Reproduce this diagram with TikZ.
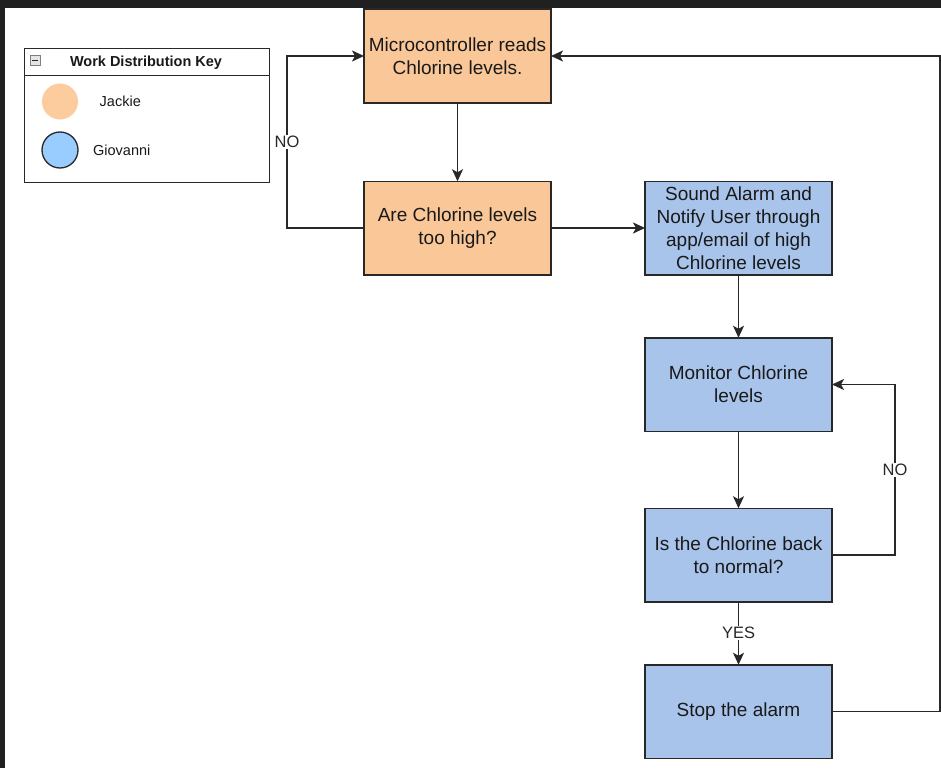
\documentclass[tikz,border=0pt]{standalone}
\usepackage{fontspec}
\setmainfont{Liberation Sans}
\usepackage{tikz}
\usetikzlibrary{arrows.meta,positioning}
\usepackage{xcolor}
\definecolor{jackiefill}{RGB}{250,200,152}
\definecolor{giofill}{RGB}{169,196,235}
\definecolor{jackiedot}{RGB}{252,204,158}
\definecolor{giodot}{RGB}{153,204,255}
\definecolor{linegray}{RGB}{40,40,40}
\definecolor{textdark}{RGB}{25,25,25}
\definecolor{band}{RGB}{32,32,32}

\begin{document}
\begin{tikzpicture}[
    x=1pt, y=1pt,
    node distance=79pt and 94pt,
    box/.style={draw=linegray, line width=1.5pt, minimum height=93.5pt, minimum width=187pt,
                inner sep=0pt, outer sep=0pt, align=center, text=textdark, font=\fontsize{19}{23}\selectfont},
    lbl/.style={fill=white, inner sep=1pt, text=linegray, font=\fontsize{16.5}{18}\selectfont},
    keytext/.style={text=textdark, font=\fontsize{14.5}{16}\selectfont},
    dot/.style={circle, minimum size=36pt, inner sep=0pt},
    arrow/.style={-{Stealth[length=12pt, width=11pt, inset=3pt]}, draw=linegray, line width=1.6pt},
]

% page and screen edges
\useasboundingbox (0,0) rectangle (941,-768);
\fill[white] (0,0) rectangle (941,-768);
\fill[band] (0,0) rectangle (941,-8);
\fill[band] (0,0) rectangle (5,-768);

% Key
\node[draw=linegray, line width=0.9pt, minimum width=245pt, minimum height=134pt] (key) at (146.5,-115) {};
\node[minimum width=245pt, minimum height=28pt, anchor=north, inner sep=0pt, outer sep=0pt] (keyhead) at (key.north) {};
\draw[linegray, line width=0.9pt] (keyhead.south west) -- (keyhead.south east);
\node[font=\bfseries\fontsize{14.5}{16}\selectfont, text=textdark] (keytitle) at (146,-62.5) {Work Distribution Key};
\node[draw=gray, fill=gray!20, line width=0.8pt, minimum size=10pt, inner sep=0pt] (collapse) at (35,-60.5) {};
\draw[linegray, line width=1.1pt] ([xshift=2.5pt]collapse.west) -- ([xshift=-2.5pt]collapse.east);

\node[dot, fill=jackiedot] (jackiedot) at (60,-101.5) {};
\node[keytext, right=18pt of jackiedot] (jackie) {Jackie};
\node[dot, fill=giodot, draw=linegray, line width=1.3pt] (giodot) at (60,-150) {};
\node[keytext, right=11pt of giodot] (giovanni) {Giovanni};

% Jackie
\node[box, fill=jackiefill] (micro) at (457.5,-56) {Microcontroller reads\\Chlorine levels.};
\node[box, fill=jackiefill, below=78.5pt of micro] (toohigh) {Are Chlorine levels\\too high?};

% Giovanni
\node[box, fill=giofill, right=of toohigh] (alarm) {Sound Alarm and\\Notify User through\\app/email of high\\Chlorine levels};
\node[box, fill=giofill, below=63pt of alarm] (monitor) {Monitor Chlorine\\levels};
\node[box, fill=giofill, below=77pt of monitor] (normal) {Is the Chlorine back\\to normal?};
\node[box, fill=giofill, below=63pt of normal] (stop) {Stop the alarm};

% Flow
\draw[arrow] (micro) -- (toohigh);
\draw[arrow] (toohigh) -- (alarm);
\draw[arrow] (toohigh.west) -- ++(-77,0) |- node[lbl, pos=0.25] {NO} (micro.west);
\draw[arrow] (alarm) -- (monitor);
\draw[arrow] (monitor) -- (normal);
\draw[arrow] (normal.east) -- ++(63,0) |- node[lbl, pos=0.25] {NO} (monitor.east);
\draw[arrow] (normal) -- node[lbl] {YES} (stop);
\draw[arrow] (stop.east) -- ++(108,0) |- (micro.east);

\end{tikzpicture}
\end{document}
